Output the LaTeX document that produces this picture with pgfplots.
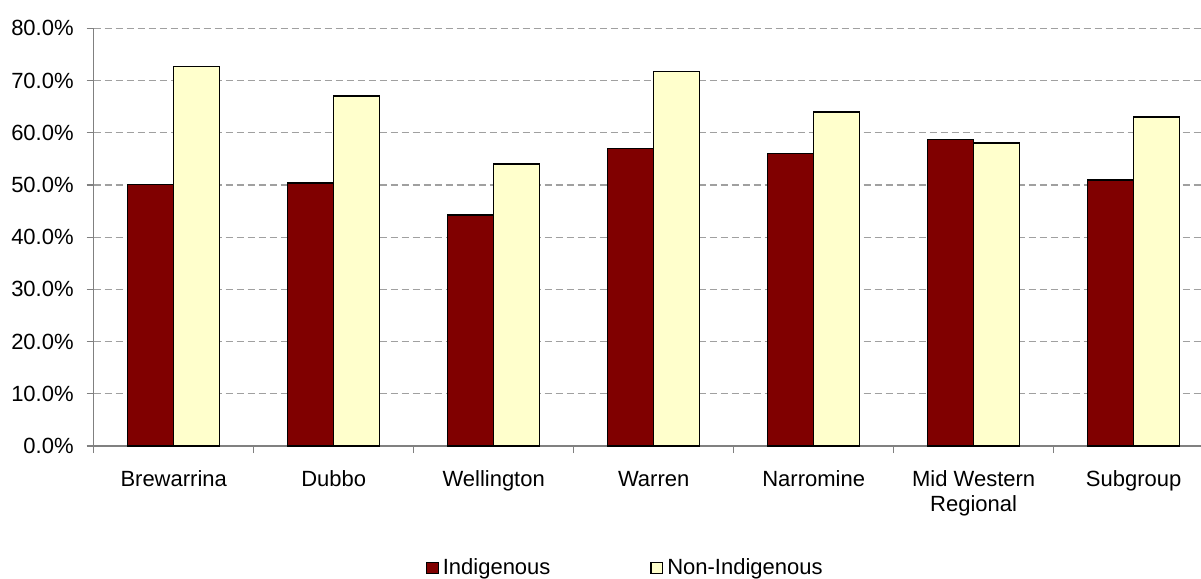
\documentclass[border=0pt]{standalone}
\usepackage{fontspec}
\setmainfont{Liberation Sans}
\usepackage{pgfplots}
\pgfplotsset{compat=1.18}
\definecolor{indig}{HTML}{800000}
\definecolor{nonindig}{HTML}{FFFFCC}
\definecolor{gridgray}{HTML}{A0A0A0}
\definecolor{axisgray}{HTML}{808080}

\begin{document}
\begin{tikzpicture}
\useasboundingbox (-46.85pt,-66.5pt) rectangle (553.65pt,223pt);
\begin{axis}[
    at={(0,0)}, anchor=south west,
    scale only axis,
    width=553.65pt, height=208.85pt,
    font=\fontsize{11}{12.5}\selectfont,
    ybar=0pt, bar width=23pt,
    xmin=-0.5, xmax=6.421,
    ymin=0, ymax=80,
    axis x line*=bottom, axis y line*=left,
    axis line style={axisgray, line width=0.6pt},
    xtick={0,...,6},
    xticklabels={\strut Brewarrina, \strut Dubbo, \strut Wellington, \strut Warren, \strut Narromine, {\strut Mid Western\\Regional}, \strut Subgroup},
    xticklabel style={align=center, yshift=-4.5pt},
    major x tick style={draw=none},
    minor xtick={-0.5,0.5,...,5.5},
    minor tick length=3.5pt,
    major tick length=3.5pt,
    tick align=outside,
    tick style={axisgray, line width=0.6pt},
    ytick={0,10,...,80},
    yticklabel={\pgfmathprintnumber[fixed,fixed zerofill,precision=1]{\tick}\%},
    yticklabel style={xshift=-3pt},
    /pgf/number format/assume math mode=true,
    ymajorgrids=true,
    grid style={gridgray, dash pattern=on 3.5pt off 2pt, line width=0.6pt},
    legend columns=2,
    legend style={at={(0.481,-0.292)}, anchor=center, draw=none, fill=none,
        font=\fontsize{11}{12.5}\selectfont,
        /tikz/every even column/.append style={column sep=48pt}},
    legend image code/.code={\draw[#1, line width=0.6pt] (-2pt,-2.9pt) rectangle (3.8pt,2.9pt);},
]
\addplot[fill=indig, draw=black, line width=0.8pt] coordinates {
    (0,50.1) (1,50.4) (2,44.3) (3,57.0) (4,56.0) (5,58.7) (6,51.0)
};
\addplot[fill=nonindig, draw=black, line width=0.8pt] coordinates {
    (0,72.7) (1,67.0) (2,54.0) (3,71.7) (4,64.0) (5,58.0) (6,63.0)
};
\legend{Indigenous, Non-Indigenous}
\end{axis}
\end{tikzpicture}
\end{document}
